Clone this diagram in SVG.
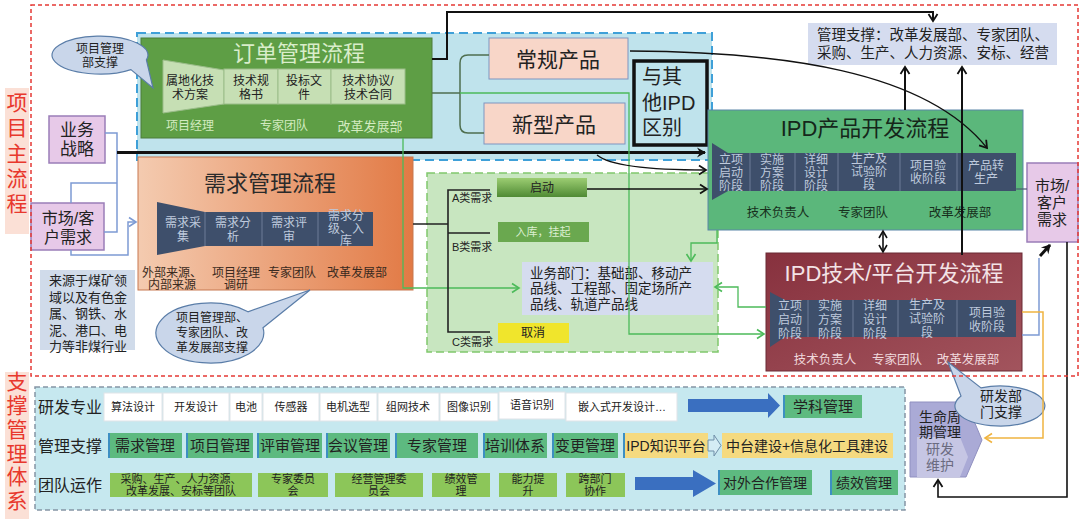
<svg xmlns="http://www.w3.org/2000/svg" width="1082" height="519" viewBox="0 0 1082 519">
<defs>
<style>
text{font-family:"Liberation Sans","Noto Sans CJK SC",sans-serif;text-anchor:middle;dominant-baseline:central;fill:#222}
.side{font-size:21px;fill:#e8382d}
.sidebg{fill:#fbe0d6}
.s12{font-size:12px}
.s13{font-size:13px}
.stage{fill:#3e4f6b}
.stxt{font-size:12px;fill:#bfcadd}
.div{stroke:#6d7d98;stroke-width:1}
.pk{fill:#e7c9e8;stroke:#9a7db8;stroke-width:1.5}
.lav{fill:#d5dcef}
.wb{fill:#ffffff;stroke:#dfe3e8;stroke-width:1}
.gb{fill:#5dba80}
.lg{fill:#8cc659}
.edge{stroke:#3d8fc2;stroke-width:2}
.bub{fill:#c9d6ea;stroke:#5a7da8;stroke-width:1.2}
.blk{fill:none;stroke:#111;stroke-width:1.3}
.grn{fill:none;stroke:#4cbb5a;stroke-width:1.3}
.blu{fill:none;stroke:#7d9bd4;stroke-width:1.5}
</style>
<linearGradient id="gOr" x1="0" y1="0" x2="1" y2="0"><stop offset="0" stop-color="#f4cbb0"/><stop offset="1" stop-color="#e27a45"/></linearGradient>
<linearGradient id="gRd" x1="0" y1="0" x2="1" y2="1"><stop offset="0" stop-color="#87313e"/><stop offset="1" stop-color="#a2545d"/></linearGradient>
<linearGradient id="gSt" x1="0" y1="0" x2="0" y2="1"><stop offset="0" stop-color="#9ccd72"/><stop offset="1" stop-color="#4f8a34"/></linearGradient>
<marker id="ab" markerWidth="12" markerHeight="12" refX="9" refY="6" orient="auto" markerUnits="userSpaceOnUse"><path d="M2,1.5 L9,6 L2,10.5" fill="none" stroke="#111" stroke-width="1.8"/></marker>
<marker id="abs" markerWidth="12" markerHeight="12" refX="9" refY="6" orient="auto-start-reverse" markerUnits="userSpaceOnUse"><path d="M2,2 L9,6 L2,10" fill="none" stroke="#111" stroke-width="1.6"/></marker>
<marker id="af" markerWidth="12" markerHeight="12" refX="9" refY="6" orient="auto" markerUnits="userSpaceOnUse"><path d="M1,1 L10,6 L1,11 L4,6 Z" fill="#111"/></marker>
<marker id="ag" markerWidth="12" markerHeight="12" refX="9" refY="6" orient="auto" markerUnits="userSpaceOnUse"><path d="M2,1.5 L9,6 L2,10.5" fill="none" stroke="#4cbb5a" stroke-width="1.6"/></marker>
<marker id="ao" markerWidth="12" markerHeight="12" refX="9" refY="6" orient="auto" markerUnits="userSpaceOnUse"><path d="M2,1.5 L9,6 L2,10.5" fill="none" stroke="#f0b440" stroke-width="1.6"/></marker>
<marker id="abl" markerWidth="12" markerHeight="12" refX="9" refY="6" orient="auto" markerUnits="userSpaceOnUse"><path d="M2,1.5 L9,6 L2,10.5" fill="none" stroke="#7d9bd4" stroke-width="1.6"/></marker>
</defs>
<rect width="1082" height="519" fill="#ffffff"/>

<g id="side-labels">
<rect class="sidebg" x="5" y="88" width="24" height="146"/>
<text class="side" x="17" y="102">项</text><text class="side" x="17" y="127">目</text><text class="side" x="17" y="153">主</text><text class="side" x="17" y="178">流</text><text class="side" x="17" y="203">程</text>
<rect class="sidebg" x="5" y="372" width="24" height="147"/>
<text class="side" x="17" y="381">支</text><text class="side" x="17" y="405">撑</text><text class="side" x="17" y="429">管</text><text class="side" x="17" y="453">理</text><text class="side" x="17" y="476">体</text><text class="side" x="17" y="500">系</text>
</g>

<g id="regions">
<rect x="137" y="33" width="575" height="127" fill="#bfe3ec" stroke="#3fa0d8" stroke-width="2" stroke-dasharray="9,5"/>
<rect x="427" y="173" width="291" height="179" fill="#c8e6c0" stroke="#80c86c" stroke-width="1.5" stroke-dasharray="8,4"/>
<rect x="35" y="387" width="870" height="123" fill="#c6e8ef" stroke="#8595a5" stroke-width="1.5" stroke-dasharray="5,3"/>
</g>

<g id="order-process">
<rect x="141" y="38" width="291" height="100" fill="#5e9e45" stroke="#4d7d3a"/>
<text x="299" y="53" style="font-size:22px;fill:#d9edca">订单管理流程</text>
<polygon points="163,60 224,70 224,104 163,113" fill="#c6dfb4" stroke="#9bbd8a"/>
<rect x="224" y="69" width="54" height="35" fill="#c6dfb4" stroke="#9bbd8a"/>
<rect x="278" y="69" width="53" height="35" fill="#c6dfb4" stroke="#9bbd8a"/>
<rect x="331" y="69" width="74" height="35" fill="#c6dfb4" stroke="#9bbd8a"/>
<text class="s12" x="190" y="81">属地化技</text><text class="s12" x="190" y="95">术方案</text>
<text class="s12" x="251" y="81">技术规</text><text class="s12" x="251" y="95">格书</text>
<text class="s12" x="304" y="81">投标文</text><text class="s12" x="304" y="95">件</text>
<text class="s12" x="368" y="81">技术协议/</text><text class="s12" x="368" y="95">技术合同</text>
<text class="s12" x="190" y="126" style="fill:#d3ebc0">项目经理</text>
<text class="s12" x="284" y="126" style="fill:#d3ebc0">专家团队</text>
<text class="s13" x="370" y="126" style="fill:#d3ebc0">改革发展部</text>
</g>

<g id="bubble-order">
<path class="bub" d="M146.4,59.9 A48,19 0 1 0 130.9,69.6 L153,88 Z"/>
<text class="s12" x="100" y="49">项目管理</text><text class="s12" x="100" y="63">部支撑</text>
</g>

<g id="product-regular">
<rect x="489" y="38" width="139" height="41" fill="#f8d6c8" stroke="#7f95c0"/>
<text x="558" y="59" style="font-size:21px">常规产品</text>
</g>
<g id="product-new">
<rect x="484" y="103" width="141" height="41" fill="#f8d6c8" stroke="#7f95c0"/>
<text x="554" y="124" style="font-size:21px">新型产品</text>
</g>
<g id="ipd-diff">
<rect x="634" y="61" width="73" height="84" fill="#bfe3ec" stroke="#111" stroke-width="3.5"/>
<text x="642" y="77" style="font-size:20px;text-anchor:start">与其</text>
<text x="642" y="103" style="font-size:20px;text-anchor:start">他IPD</text>
<text x="642" y="128" style="font-size:20px;text-anchor:start">区别</text>
</g>

<g id="biz-strategy">
<rect class="pk" x="49" y="116" width="56" height="47"/>
<text x="77" y="130" style="font-size:17px">业务</text><text x="77" y="149" style="font-size:17px">战略</text>
</g>
<g id="market-left">
<rect class="pk" x="31" y="203" width="73" height="47"/>
<text x="68" y="218" style="font-size:16px">市场/客</text><text x="68" y="237" style="font-size:16px">户需求</text>
</g>
<g id="source-note">
<rect x="40" y="270" width="95" height="80" fill="#d0dbea"/>
<text class="s13" x="88" y="280">来源于煤矿领</text><text class="s13" x="88" y="297">域以及有色金</text><text class="s13" x="88" y="313">属、钢铁、水</text><text class="s13" x="88" y="330">泥、港口、电</text><text class="s13" x="88" y="346">力等非煤行业</text>
</g>

<g id="demand-process">
<rect x="138" y="157" width="275" height="133" fill="url(#gOr)" stroke="#c77850"/>
<text x="270" y="183" style="font-size:22px;fill:#2a2a2a">需求管理流程</text>
<polygon class="stage" points="157,202 205,212 373,212 373,246 205,246 157,255"/>
<line class="div" x1="205" y1="212" x2="205" y2="246"/><line class="div" x1="262" y1="212" x2="262" y2="246"/><line class="div" x1="318" y1="212" x2="318" y2="246"/>
<text class="stxt" x="183" y="223">需求采</text><text class="stxt" x="183" y="237">集</text>
<text class="stxt" x="233" y="223">需求分</text><text class="stxt" x="233" y="237">析</text>
<text class="stxt" x="289" y="223">需求评</text><text class="stxt" x="289" y="237">审</text>
<text class="stxt" x="346" y="216">需求分</text><text class="stxt" x="346" y="229">级、入</text><text class="stxt" x="346" y="241">库</text>
<text class="s12" x="172" y="273" style="fill:#3a2a20">外部来源、</text><text class="s12" x="172" y="285" style="fill:#3a2a20">内部来源</text>
<text class="s12" x="236" y="273" style="fill:#3a2a20">项目经理</text><text class="s12" x="236" y="285" style="fill:#3a2a20">调研</text>
<text class="s12" x="292" y="273" style="fill:#3a2a20">专家团队</text>
<text class="s12" x="357" y="273" style="fill:#3a2a20">改革发展部</text>
</g>

<g id="bubble-demand">
<path class="bub" d="M263,327.8 A54,30 0 1 1 248,311.8 L310,290 Z"/>
<text class="s12" x="212" y="318">项目管理部、</text><text class="s12" x="212" y="333">专家团队、改</text><text class="s12" x="212" y="348">革发展部支撑</text>
</g>

<g id="class-a"><rect x="497" y="178" width="90" height="19" fill="url(#gSt)"/><text class="s12" x="542" y="188">启动</text></g>
<g id="class-b"><rect x="498" y="222" width="91" height="20" fill="#6aa84f"/><text x="543" y="232" style="font-size:11px;fill:#dcefd0">入库，挂起</text></g>
<g id="class-c"><rect x="498" y="323" width="71" height="20" fill="#f0e52c"/><text class="s12" x="533" y="333">取消</text></g>
<g id="class-labels">
<text x="452" y="198" style="font-size:11px;text-anchor:start">A类需求</text>
<text x="452" y="247" style="font-size:11px;text-anchor:start">B类需求</text>
<text x="452" y="342" style="font-size:11px;text-anchor:start">C类需求</text>
</g>

<g id="business-depts">
<rect class="lav" x="522" y="262" width="191" height="53"/>
<text x="530" y="273" style="font-size:13.5px;text-anchor:start">业务部门：基础部、移动产</text>
<text x="530" y="288" style="font-size:13.5px;text-anchor:start">品线、工程部、固定场所产</text>
<text x="530" y="304" style="font-size:13.5px;text-anchor:start">品线、轨道产品线</text>
</g>

<g id="mgmt-support">
<rect class="lav" x="808" y="23" width="249" height="42"/>
<text x="817" y="35" style="font-size:14.5px;text-anchor:start">管理支撑：改革发展部、专家团队、</text>
<text x="817" y="53" style="font-size:14.5px;text-anchor:start">采购、生产、人力资源、安标、经营</text>
</g>

<g id="ipd-product">
<rect x="708" y="110" width="315" height="120" fill="#5bb77b" stroke="#5b86a8"/>
<text x="865" y="128" style="font-size:22px;fill:#15261a">IPD产品开发流程</text>
<polygon class="stage" points="712,143 728,153 1016,153 1016,191 728,191 712,200"/>
<line class="div" x1="750" y1="153" x2="750" y2="191"/><line class="div" x1="795" y1="153" x2="795" y2="191"/><line class="div" x1="838" y1="153" x2="838" y2="191"/><line class="div" x1="900" y1="153" x2="900" y2="191"/><line class="div" x1="957" y1="153" x2="957" y2="191"/>
<text class="stxt" x="731" y="160">立项</text><text class="stxt" x="731" y="173">启动</text><text class="stxt" x="731" y="186">阶段</text>
<text class="stxt" x="772" y="160">实施</text><text class="stxt" x="772" y="173">方案</text><text class="stxt" x="772" y="186">阶段</text>
<text class="stxt" x="816" y="160">详细</text><text class="stxt" x="816" y="173">设计</text><text class="stxt" x="816" y="186">阶段</text>
<text class="stxt" x="869" y="159">生产及</text><text class="stxt" x="869" y="172">试验阶</text><text class="stxt" x="869" y="185">段</text>
<text class="stxt" x="928" y="166">项目验</text><text class="stxt" x="928" y="179">收阶段</text>
<text class="stxt" x="986" y="166">产品转</text><text class="stxt" x="986" y="179">生产</text>
<text x="778" y="213" style="font-size:12.5px;fill:#17301d">技术负责人</text>
<text x="863" y="213" style="font-size:12.5px;fill:#17301d">专家团队</text>
<text x="960" y="213" style="font-size:12.5px;fill:#17301d">改革发展部</text>
</g>

<g id="market-right">
<rect class="pk" x="1027" y="163" width="51" height="79"/>
<text x="1052" y="185" style="font-size:15px">市场/</text><text x="1052" y="202" style="font-size:15px">客户</text><text x="1052" y="219" style="font-size:15px">需求</text>
</g>

<g id="ipd-tech">
<rect x="766" y="253" width="256" height="118" fill="url(#gRd)" stroke="#6b2a35"/>
<text x="894" y="273" style="font-size:22px;fill:#f3e3e6">IPD技术/平台开发流程</text>
<polygon class="stage" points="770,292 785,300 1016,300 1016,337 785,337 770,347"/>
<line class="div" x1="808" y1="300" x2="808" y2="337"/><line class="div" x1="853" y1="300" x2="853" y2="337"/><line class="div" x1="898" y1="300" x2="898" y2="337"/><line class="div" x1="957" y1="300" x2="957" y2="337"/>
<text class="stxt" x="790" y="306">立项</text><text class="stxt" x="790" y="320">启动</text><text class="stxt" x="790" y="334">阶段</text>
<text class="stxt" x="830" y="306">实施</text><text class="stxt" x="830" y="320">方案</text><text class="stxt" x="830" y="334">阶段</text>
<text class="stxt" x="875" y="306">详细</text><text class="stxt" x="875" y="320">设计</text><text class="stxt" x="875" y="334">阶段</text>
<text class="stxt" x="927" y="305">生产及</text><text class="stxt" x="927" y="319">试验阶</text><text class="stxt" x="927" y="333">段</text>
<text class="stxt" x="987" y="313">项目验</text><text class="stxt" x="987" y="327">收阶段</text>
<text x="825" y="360" style="font-size:12.5px;fill:#f0d8dc">技术负责人</text>
<text x="897" y="360" style="font-size:12.5px;fill:#f0d8dc">专家团队</text>
<text x="968" y="360" style="font-size:12.5px;fill:#f0d8dc">改革发展部</text>
</g>

<g id="lifecycle">
<polygon points="910,402 966,402 982,440 966,477 910,477" fill="#aaaad6" stroke="#9090c0"/>
<polygon points="917,437 960,437 968,457 960,477 917,477" fill="#c6c6e4"/>
<text x="940" y="417" style="font-size:14px">生命周</text><text x="940" y="432" style="font-size:14px">期管理</text>
<text x="940" y="449" style="font-size:14px;fill:#6b6b80">研发</text><text x="940" y="465" style="font-size:14px;fill:#6b6b80">维护</text>
</g>

<g id="bubble-rd">
<path class="bub" d="M981,387.9 A45,20 0 1 1 961,396 L948,362 Z"/>
<text x="1001" y="396" style="font-size:14px">研发部</text><text x="1001" y="412" style="font-size:14px">门支撑</text>
</g>

<g id="support-system">
<text x="38" y="407" style="font-size:16px;text-anchor:start">研发专业</text>
<text x="38" y="446" style="font-size:16px;text-anchor:start">管理支撑</text>
<text x="38" y="485" style="font-size:16px;text-anchor:start">团队运作</text>
<rect class="wb" x="104" y="393" width="58" height="28"/><text x="133" y="407" style="font-size:11px">算法设计</text>
<rect class="wb" x="163" y="393" width="66" height="28"/><text x="196" y="407" style="font-size:11px">开发设计</text>
<rect class="wb" x="230" y="393" width="32" height="28"/><text x="246" y="407" style="font-size:11px">电池</text>
<rect class="wb" x="263" y="393" width="56" height="28"/><text x="291" y="407" style="font-size:11px">传感器</text>
<rect class="wb" x="320" y="393" width="57" height="28"/><text x="348" y="407" style="font-size:11px">电机选型</text>
<rect class="wb" x="378" y="393" width="61" height="28"/><text x="408" y="407" style="font-size:11px">组网技术</text>
<rect class="wb" x="440" y="393" width="58" height="28"/><text x="469" y="407" style="font-size:11px">图像识别</text>
<rect class="wb" x="499" y="392" width="66" height="27"/><text x="532" y="405" style="font-size:11px">语音识别</text>
<rect class="wb" x="566" y="393" width="111" height="28"/><text x="622" y="407" style="font-size:11px">嵌入式开发设计…</text>
<polygon points="688,399 768,399 768,393 780,405.5 768,418 768,412 688,412" fill="#3a6fc0"/>
<rect class="gb" x="783" y="395" width="79" height="23"/><line class="edge" x1="784" y1="395" x2="784" y2="418"/><text x="823" y="406.5" style="font-size:15px">学科管理</text>

<rect class="gb" x="108" y="433" width="74" height="25"/><line class="edge" x1="109" y1="433" x2="109" y2="458"/><text x="145" y="445.5" style="font-size:15px">需求管理</text>
<rect class="gb" x="186" y="433" width="67" height="25"/><line class="edge" x1="187" y1="433" x2="187" y2="458"/><text x="220" y="445.5" style="font-size:15px">项目管理</text>
<rect class="gb" x="257" y="433" width="65" height="25"/><line class="edge" x1="258" y1="433" x2="258" y2="458"/><text x="290" y="445.5" style="font-size:15px">评审管理</text>
<rect class="gb" x="326" y="433" width="64" height="25"/><line class="edge" x1="327" y1="433" x2="327" y2="458"/><text x="358" y="445.5" style="font-size:15px">会议管理</text>
<rect class="gb" x="395" y="433" width="83" height="25"/><line class="edge" x1="396" y1="433" x2="396" y2="458"/><text x="437" y="445.5" style="font-size:15px">专家管理</text>
<rect class="gb" x="483" y="433" width="64" height="25"/><line class="edge" x1="484" y1="433" x2="484" y2="458"/><text x="515" y="445.5" style="font-size:15px">培训体系</text>
<rect class="gb" x="552" y="433" width="66" height="25"/><line class="edge" x1="553" y1="433" x2="553" y2="458"/><text x="585" y="445.5" style="font-size:15px">变更管理</text>
<rect x="623" y="433" width="85" height="25" fill="#f5da80"/><line class="edge" x1="624" y1="433" x2="624" y2="458"/><text x="666" y="445.5" style="font-size:14px">IPD知识平台</text>
<polygon points="708,440 714,440 714,435 721,445.5 714,456 714,451 708,451" fill="#d4ecf4" stroke="#6f8fa8"/>
<rect x="722" y="433" width="171" height="25" fill="#f5da80"/><text x="807" y="445.5" style="font-size:14px">中台建设+信息化工具建设</text>

<rect class="lg" x="110" y="473" width="142" height="24"/><text x="181" y="479" style="font-size:11px">采购、生产、人力资源、</text><text x="181" y="491" style="font-size:11px">改革发展、安标等团队</text>
<rect class="lg" x="258" y="473" width="70" height="24"/><text x="293" y="479" style="font-size:11px">专家委员</text><text x="293" y="491" style="font-size:11px">会</text>
<rect class="lg" x="335" y="473" width="88" height="24"/><text x="379" y="479" style="font-size:11px">经营管理委</text><text x="379" y="491" style="font-size:11px">员会</text>
<rect class="lg" x="432" y="473" width="58" height="24"/><text x="461" y="479" style="font-size:11px">绩效管</text><text x="461" y="491" style="font-size:11px">理</text>
<rect class="lg" x="499" y="473" width="58" height="24"/><text x="528" y="479" style="font-size:11px">能力提</text><text x="528" y="491" style="font-size:11px">升</text>
<rect class="lg" x="566" y="473" width="59" height="24"/><text x="595" y="479" style="font-size:11px">跨部门</text><text x="595" y="491" style="font-size:11px">协作</text>
<polygon points="635,477 693,477 693,470 716,483.5 693,497 693,490 635,490" fill="#3a6fc0"/>
<rect class="gb" x="718" y="470" width="94" height="25"/><line class="edge" x1="719" y1="470" x2="719" y2="495"/><text x="765" y="482.5" style="font-size:14px">对外合作管理</text>
<rect class="gb" x="830" y="470" width="68" height="25"/><line class="edge" x1="831" y1="470" x2="831" y2="495"/><text x="864" y="482.5" style="font-size:14px">绩效管理</text>
</g>

<g id="connectors">
<polyline class="blu" points="105,133 117,133 117,232 104,232"/>
<polyline class="blu" points="71,203 71,183 117,183"/>
<polyline class="blu" points="71,250 71,255 128,255 128,222 136,222" marker-end="url(#abl)"/>
<line x1="117" y1="152.5" x2="705" y2="152.5" stroke="#111" stroke-width="2.8" marker-end="url(#af)"/>
<polyline points="432,59 447,59 447,12 933,12 933,21" fill="none" stroke="#111" stroke-width="2" marker-end="url(#ab)"/>
<path d="M489,55 L468,55 Q460,55 460,63 L460,125 Q460,133 468,133 L484,133 M432,93 L460,93" fill="none" stroke="#4f6f4f" stroke-width="1.5"/>
<polyline class="grn" points="460,93 629,93 629,334 764,334" marker-end="url(#ag)"/>
<polyline class="grn" points="403,138 403,288 519,288" marker-end="url(#ag)"/>
<polyline class="grn" points="717,230 717,243 691,243 691,261" marker-end="url(#ag)"/>
<polyline class="grn" points="766,307 738,307 738,287 715,287" marker-end="url(#ag)"/>
<path class="blk" d="M630,51 C780,52 925,70 987,148" stroke-width="1.5" marker-end="url(#ab)"/>
<path class="blk" d="M597,155 C610,166 650,170 706,170" marker-end="url(#ab)"/>
<line class="blk" x1="587" y1="189" x2="707" y2="189" marker-end="url(#ab)"/>
<path d="M413,224 L448,224 M490,190 L448,190 L448,332 L490,332 M448,233 L490,233" fill="none" stroke="#222" stroke-width="1.6"/>
<line x1="905" y1="110" x2="905" y2="67" stroke="#111" stroke-width="2" marker-end="url(#ab)"/>
<line x1="962" y1="255" x2="962" y2="67" stroke="#111" stroke-width="2" marker-end="url(#ab)"/>
<line x1="883" y1="231" x2="883" y2="252" stroke="#111" stroke-width="1.6" marker-start="url(#abs)" marker-end="url(#abs)"/>
<line x1="1016" y1="189" x2="1027" y2="189" stroke="#4a5a70" stroke-width="1.2"/>
<polyline class="blu" points="1022,335 1039,335 1039,258" stroke-width="1.2"/>
<line x1="1040" y1="256" x2="1050" y2="245" stroke="#111" stroke-width="3" marker-end="url(#af)"/>
<polyline points="1022,312 1043,312 1043,438 985,438" fill="none" stroke="#f0b440" stroke-width="1.5" marker-end="url(#ao)"/>
<polyline points="1067,242 1067,497 938,497 938,480" fill="none" stroke="#111" stroke-width="1.6" marker-end="url(#ab)"/>
</g>

<rect x="31" y="5" width="1047" height="371" fill="none" stroke="#e53935" stroke-width="1.5" stroke-dasharray="4,3"/>
</svg>
